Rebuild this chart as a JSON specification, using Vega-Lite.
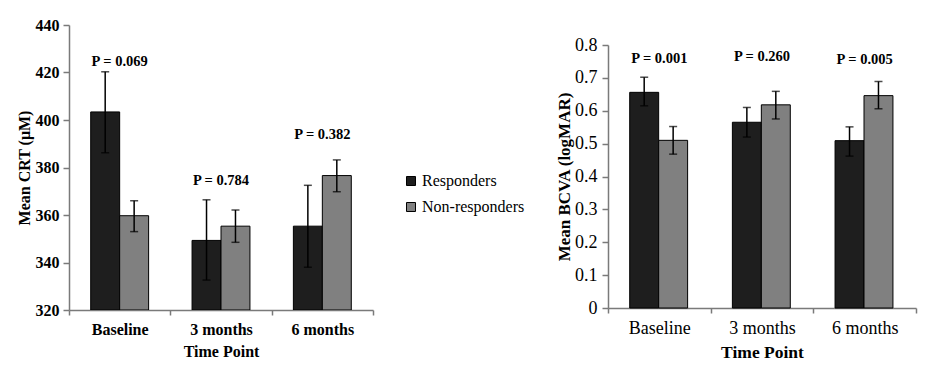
{
  "$schema": "https://vega.github.io/schema/vega-lite/v6.json",
  "background": "white",
  "padding": {"left": 16, "top": 17, "right": 5, "bottom": 5},
  "config": {
    "font": "Liberation Serif",
    "view": {"stroke": null},
    "axis": {"domainColor": "#7a7a7a", "tickColor": "#7a7a7a", "labelColor": "black", "titleColor": "black", "grid": false, "domainWidth": 1.5, "tickWidth": 1.5, "labelOverlap": false},
    "concat": {"spacing": 30}
  },
  "datasets": {
    "crt": [
      {"time": "Baseline", "group": "Responders", "mean": 403.4, "lo": 386.2, "hi": 420.3},
      {"time": "Baseline", "group": "Non-responders", "mean": 359.7, "lo": 353, "hi": 366},
      {"time": "3 months", "group": "Responders", "mean": 349.3, "lo": 332.6, "hi": 366.4},
      {"time": "3 months", "group": "Non-responders", "mean": 355.3, "lo": 348.5, "hi": 362.1},
      {"time": "6 months", "group": "Responders", "mean": 355.3, "lo": 338, "hi": 372.5},
      {"time": "6 months", "group": "Non-responders", "mean": 376.6, "lo": 369.8, "hi": 383.2}
    ],
    "crtP": [
      {"time": "Baseline", "label": "P = 0.069", "pos": 424.4},
      {"time": "3 months", "label": "P = 0.784", "pos": 374.3},
      {"time": "6 months", "label": "P = 0.382", "pos": 393.7}
    ],
    "bcva": [
      {"time": "Baseline", "group": "Responders", "mean": 0.656, "lo": 0.615, "hi": 0.702},
      {"time": "Baseline", "group": "Non-responders", "mean": 0.51, "lo": 0.468, "hi": 0.552},
      {"time": "3 months", "group": "Responders", "mean": 0.565, "lo": 0.52, "hi": 0.61},
      {"time": "3 months", "group": "Non-responders", "mean": 0.618, "lo": 0.575, "hi": 0.659},
      {"time": "6 months", "group": "Responders", "mean": 0.509, "lo": 0.462, "hi": 0.551},
      {"time": "6 months", "group": "Non-responders", "mean": 0.646, "lo": 0.606, "hi": 0.689}
    ],
    "bcvaP": [
      {"time": "Baseline", "label": "P = 0.001", "pos": 0.756},
      {"time": "3 months", "label": "P = 0.260", "pos": 0.765},
      {"time": "6 months", "label": "P = 0.005", "pos": 0.753}
    ],
    "blank": [{"t": ""}]
  },
  "resolve": {"scale": {"color": "independent"}, "legend": {"color": "independent"}},
  "hconcat": [
    {
      "width": 304,
      "height": 285,
      "layer": [
        {
          "data": {"name": "crt"},
          "mark": {"type": "bar", "stroke": "black", "strokeWidth": 1, "clip": true},
          "encoding": {
            "x": {"field": "time", "type": "nominal", "sort": ["Baseline", "3 months", "6 months"], "scale": {"paddingInner": 0, "paddingOuter": 0},
              "axis": {"title": "Time Point", "labelAngle": 0, "tickBand": "extent", "tickSize": 5, "labelFontSize": 16, "labelFontWeight": "bold", "labelPadding": 6, "titleFontSize": 16, "titleFontWeight": "bold", "titlePadding": 6}},
            "xOffset": {"field": "group", "sort": ["Responders", "Non-responders"], "scale": {"paddingInner": 0, "paddingOuter": 0.75}},
            "y": {"field": "mean", "type": "quantitative", "scale": {"domain": [320, 440], "zero": false},
              "axis": {"title": "Mean CRT (μM)", "values": [320, 340, 360, 380, 400, 420, 440], "tickSize": 6, "labelFontSize": 16, "labelFontWeight": "bold", "labelPadding": 4, "titleFontSize": 16, "titleFontWeight": "bold", "titlePadding": 3}},
            "y2": {"datum": 320},
            "color": {"field": "group", "type": "nominal", "scale": {"domain": ["Responders", "Non-responders"], "range": ["#1e1e1e", "#808080"]},
              "legend": {"orient": "none", "legendX": 334, "legendY": 148, "title": null, "symbolType": "square", "symbolSize": 81, "symbolStrokeColor": "black", "symbolStrokeWidth": 1, "labelFontSize": 16, "labelColor": "black", "rowPadding": 10, "labelOffset": 3, "padding": 0}}
          }
        },
        {
          "data": {"name": "crt"},
          "mark": {"type": "rule", "color": "black", "strokeWidth": 1.5},
          "encoding": {
            "x": {"field": "time", "type": "nominal", "sort": ["Baseline", "3 months", "6 months"]},
            "xOffset": {"field": "group", "sort": ["Responders", "Non-responders"]},
            "y": {"field": "lo", "type": "quantitative",
              "axis": {"title": "Mean CRT (μM)", "values": [320, 340, 360, 380, 400, 420, 440], "tickSize": 6, "labelFontSize": 16, "labelFontWeight": "bold", "labelPadding": 4, "titleFontSize": 16, "titleFontWeight": "bold", "titlePadding": 3}},
            "y2": {"field": "hi"}
          }
        },
        {
          "data": {"name": "crt"},
          "mark": {"type": "tick", "color": "black", "size": 8, "thickness": 1.5},
          "encoding": {
            "x": {"field": "time", "type": "nominal", "sort": ["Baseline", "3 months", "6 months"]},
            "xOffset": {"field": "group", "sort": ["Responders", "Non-responders"]},
            "y": {"field": "lo", "type": "quantitative",
              "axis": {"title": "Mean CRT (μM)", "values": [320, 340, 360, 380, 400, 420, 440], "tickSize": 6, "labelFontSize": 16, "labelFontWeight": "bold", "labelPadding": 4, "titleFontSize": 16, "titleFontWeight": "bold", "titlePadding": 3}}
          }
        },
        {
          "data": {"name": "crt"},
          "mark": {"type": "tick", "color": "black", "size": 8, "thickness": 1.5},
          "encoding": {
            "x": {"field": "time", "type": "nominal", "sort": ["Baseline", "3 months", "6 months"]},
            "xOffset": {"field": "group", "sort": ["Responders", "Non-responders"]},
            "y": {"field": "hi", "type": "quantitative",
              "axis": {"title": "Mean CRT (μM)", "values": [320, 340, 360, 380, 400, 420, 440], "tickSize": 6, "labelFontSize": 16, "labelFontWeight": "bold", "labelPadding": 4, "titleFontSize": 16, "titleFontWeight": "bold", "titlePadding": 3}}
          }
        },
        {
          "data": {"name": "crtP"},
          "mark": {"type": "text", "fontSize": 14.5, "fontWeight": "bold", "color": "black", "baseline": "middle"},
          "encoding": {
            "x": {"field": "time", "type": "nominal", "sort": ["Baseline", "3 months", "6 months"]},
            "y": {"field": "pos", "type": "quantitative",
              "axis": {"title": "Mean CRT (μM)", "values": [320, 340, 360, 380, 400, 420, 440], "tickSize": 6, "labelFontSize": 16, "labelFontWeight": "bold", "labelPadding": 4, "titleFontSize": 16, "titleFontWeight": "bold", "titlePadding": 3}},
            "text": {"field": "label"}
          }
        }
      ]
    },
    {
      "spacing": 0,
      "vconcat": [
        {
          "width": 308,
          "height": 11,
          "data": {"name": "blank"},
          "mark": {"type": "text"},
          "encoding": {"text": {"field": "t"}}
        },
        {
          "width": 308,
          "height": 263,
          "layer": [
            {
              "data": {"name": "bcva"},
              "mark": {"type": "bar", "stroke": "black", "strokeWidth": 1},
              "encoding": {
                "x": {"field": "time", "type": "nominal", "sort": ["Baseline", "3 months", "6 months"], "scale": {"paddingInner": 0, "paddingOuter": 0},
                  "axis": {"title": "Time Point", "labelAngle": 0, "tickBand": "extent", "tickSize": 5, "labelFontSize": 18, "labelPadding": 6, "titleFontSize": 17.5, "titleFontWeight": "bold", "titlePadding": 6}},
                "xOffset": {"field": "group", "sort": ["Responders", "Non-responders"], "scale": {"paddingInner": 0, "paddingOuter": 0.72}},
                "y": {"field": "mean", "type": "quantitative", "scale": {"domain": [0, 0.8]},
                  "axis": {"title": "Mean BCVA (logMAR)", "values": [0, 0.1, 0.2, 0.3, 0.4, 0.5, 0.6, 0.7, 0.8], "format": ".1~f", "labelOverlap": false, "tickSize": 6, "labelFontSize": 18, "labelPadding": 5, "titleFontSize": 17, "titleFontWeight": "bold", "titlePadding": 1}},
                "color": {"field": "group", "type": "nominal", "scale": {"domain": ["Responders", "Non-responders"], "range": ["#1e1e1e", "#808080"]}, "legend": null}
              }
            },
            {
              "data": {"name": "bcva"},
              "mark": {"type": "rule", "color": "black", "strokeWidth": 1.5},
              "encoding": {
                "x": {"field": "time", "type": "nominal", "sort": ["Baseline", "3 months", "6 months"]},
                "xOffset": {"field": "group", "sort": ["Responders", "Non-responders"]},
                "y": {"field": "lo", "type": "quantitative",
                  "axis": {"title": "Mean BCVA (logMAR)", "values": [0, 0.1, 0.2, 0.3, 0.4, 0.5, 0.6, 0.7, 0.8], "format": ".1~f", "labelOverlap": false, "tickSize": 6, "labelFontSize": 18, "labelPadding": 5, "titleFontSize": 17, "titleFontWeight": "bold", "titlePadding": 1}},
                "y2": {"field": "hi"}
              }
            },
            {
              "data": {"name": "bcva"},
              "mark": {"type": "tick", "color": "black", "size": 8, "thickness": 1.5},
              "encoding": {
                "x": {"field": "time", "type": "nominal", "sort": ["Baseline", "3 months", "6 months"]},
                "xOffset": {"field": "group", "sort": ["Responders", "Non-responders"]},
                "y": {"field": "lo", "type": "quantitative",
                  "axis": {"title": "Mean BCVA (logMAR)", "values": [0, 0.1, 0.2, 0.3, 0.4, 0.5, 0.6, 0.7, 0.8], "format": ".1~f", "labelOverlap": false, "tickSize": 6, "labelFontSize": 18, "labelPadding": 5, "titleFontSize": 17, "titleFontWeight": "bold", "titlePadding": 1}}
              }
            },
            {
              "data": {"name": "bcva"},
              "mark": {"type": "tick", "color": "black", "size": 8, "thickness": 1.5},
              "encoding": {
                "x": {"field": "time", "type": "nominal", "sort": ["Baseline", "3 months", "6 months"]},
                "xOffset": {"field": "group", "sort": ["Responders", "Non-responders"]},
                "y": {"field": "hi", "type": "quantitative",
                  "axis": {"title": "Mean BCVA (logMAR)", "values": [0, 0.1, 0.2, 0.3, 0.4, 0.5, 0.6, 0.7, 0.8], "format": ".1~f", "labelOverlap": false, "tickSize": 6, "labelFontSize": 18, "labelPadding": 5, "titleFontSize": 17, "titleFontWeight": "bold", "titlePadding": 1}}
              }
            },
            {
              "data": {"name": "bcvaP"},
              "mark": {"type": "text", "fontSize": 14.5, "fontWeight": "bold", "color": "black", "baseline": "middle"},
              "encoding": {
                "x": {"field": "time", "type": "nominal", "sort": ["Baseline", "3 months", "6 months"]},
                "y": {"field": "pos", "type": "quantitative",
                  "axis": {"title": "Mean BCVA (logMAR)", "values": [0, 0.1, 0.2, 0.3, 0.4, 0.5, 0.6, 0.7, 0.8], "format": ".1~f", "labelOverlap": false, "tickSize": 6, "labelFontSize": 18, "labelPadding": 5, "titleFontSize": 17, "titleFontWeight": "bold", "titlePadding": 1}},
                "text": {"field": "label"}
              }
            }
          ]
        }
      ]
    }
  ]
}
